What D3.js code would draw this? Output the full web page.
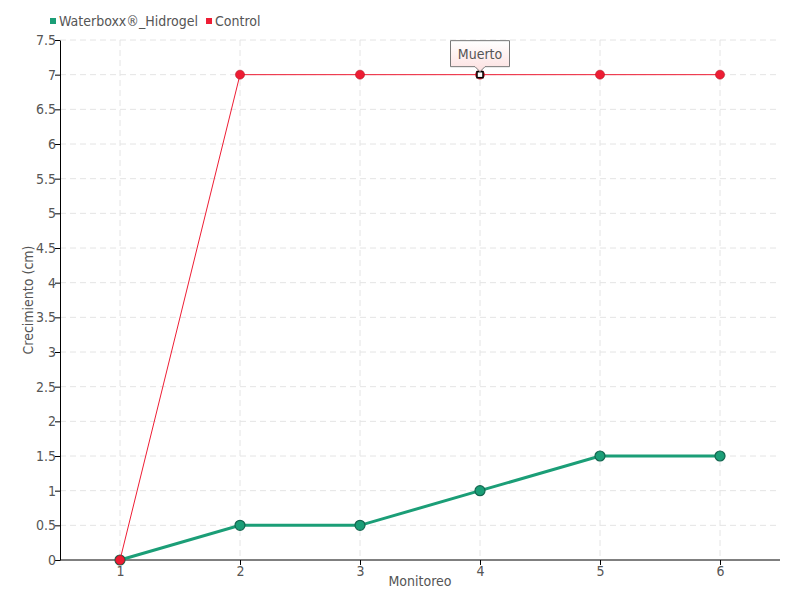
<!DOCTYPE html>
<html><head><meta charset="utf-8">
<script src="https://cdn.jsdelivr.net/npm/d3@7"></script>
<style>
body{margin:0;background:#fff;}
text{font-family:"DejaVu Sans Condensed","DejaVu Sans",sans-serif;fill:#555;}
</style></head><body>
<svg id="c" width="800" height="600"></svg>
<script>
const categories = ["1","2","3","4","5","6"];
const seriesNames = ["Waterboxx®_Hidrogel","Control"];
const hidrogel = [0,0.5,0.5,1,1.5,1.5];
const control = [0,7,7,7,7,7];
const yTicks = [0,0.5,1,1.5,2,2.5,3,3.5,4,4.5,5,5.5,6,6.5,7,7.5];
const colors = ["#1b9e77","#ee1d34"];
const annotations = [{series:1, index:3, label:"Muerto"}];

const svg = d3.select("#c");
const m = {l:60, r:20, t:40, b:40};
const W = 800, H = 600;
const x = d3.scalePoint().domain(categories).range([m.l, W-m.r]).padding(0.5);
const y = d3.scaleLinear().domain([0,7.5]).range([H-m.b, m.t]);

// grid
svg.append("g").selectAll("line").data(yTicks.slice(1)).join("line")
  .attr("x1",m.l).attr("x2",W-m.r).attr("y1",d=>y(d)).attr("y2",d=>y(d))
  .attr("stroke","#e4e4e4").attr("stroke-dasharray","6,4");
svg.append("g").selectAll("line").data(categories).join("line")
  .attr("x1",d=>x(d)).attr("x2",d=>x(d)).attr("y1",m.t).attr("y2",H-m.b)
  .attr("stroke","#e4e4e4").attr("stroke-dasharray","6,4");

// axes
const ya = svg.append("g").attr("transform",`translate(${m.l},0)`)
  .call(d3.axisLeft(y).tickValues(yTicks).tickSize(5).tickSizeOuter(0).tickFormat(d3.format("")));
ya.select(".domain").attr("stroke","#000");
ya.selectAll(".tick line").attr("stroke","#000");
ya.selectAll("text").attr("font-size",14).attr("x",-4);
const xa = svg.append("g").attr("transform",`translate(0,${H-m.b})`)
  .call(d3.axisBottom(x).tickSize(5).tickSizeOuter(0));
xa.select(".domain").attr("stroke","#000").attr("d",`M${m.l},0H${W-m.r}`);
xa.selectAll(".tick line").attr("stroke","#000");
xa.selectAll("text").attr("font-size",14).attr("dy","0.55em");

svg.append("text").attr("transform",`translate(33,${(m.t+H-m.b)/2}) rotate(-90)`)
  .attr("text-anchor","middle").attr("font-size",14).text("Crecimiento (cm)");
svg.append("text").attr("x",(m.l+W-m.r)/2).attr("y",586).attr("text-anchor","middle")
  .attr("font-size",14).text("Monitoreo");

const line = d3.line().x((d,i)=>x(categories[i])).y(d=>y(d));
// green series
svg.append("path").datum(hidrogel).attr("d",line).attr("fill","none")
  .attr("stroke",colors[0]).attr("stroke-width",3);
svg.append("g").selectAll("circle").data(hidrogel).join("circle")
  .attr("cx",(d,i)=>x(categories[i])).attr("cy",d=>y(d)).attr("r",5)
  .attr("fill",colors[0]).attr("stroke","#13664f").attr("stroke-width",1.2);
// red series
svg.append("path").datum(control).attr("d",line).attr("fill","none")
  .attr("stroke",colors[1]).attr("stroke-width",1);
svg.append("g").selectAll("circle").data(control).join("circle")
  .attr("cx",(d,i)=>x(categories[i])).attr("cy",d=>y(d)).attr("r",4.5)
  .attr("fill",colors[1]).attr("stroke","#b0101f").attr("stroke-width",0.6);

// annotations
const defs = svg.append("defs");
const g = defs.append("linearGradient").attr("id","tg").attr("x1",0).attr("x2",0).attr("y1",0).attr("y2",1);
g.append("stop").attr("offset","0%").attr("stop-color","#fff");
g.append("stop").attr("offset","100%").attr("stop-color","#fde0e0");
annotations.forEach(a=>{
  const vals = a.series===1?control:hidrogel;
  const px = x(categories[a.index]), py = y(vals[a.index]);
  svg.append("rect").attr("x",px-3).attr("y",py-3).attr("width",6).attr("height",6)
    .attr("fill","#fff").attr("stroke","#000").attr("stroke-width",1.5);
  const bw = 59, bh = 26, by = py-34;
  svg.append("path")
    .attr("d",`M${px-bw/2},${by}H${px+bw/2}V${by+bh}H${px+5}L${px},${by+bh+5}L${px-5},${by+bh}H${px-bw/2}Z`)
    .attr("fill","url(#tg)").attr("stroke","#777").attr("stroke-width",1);
  svg.append("text").attr("x",px).attr("y",by+bh/2+5).attr("text-anchor","middle")
    .attr("font-size",14).text(a.label);
});

// legend
const lg = svg.append("g");
let lx = 50;
seriesNames.forEach((n,i)=>{
  lg.append("rect").attr("x",lx).attr("y",18).attr("width",6).attr("height",6).attr("fill",colors[i]);
  const t = lg.append("text").attr("x",lx+9).attr("y",26).attr("font-size",14).text(n);
  lx += 9 + t.node().getComputedTextLength() + 8;
});
</script>
</body></html>
